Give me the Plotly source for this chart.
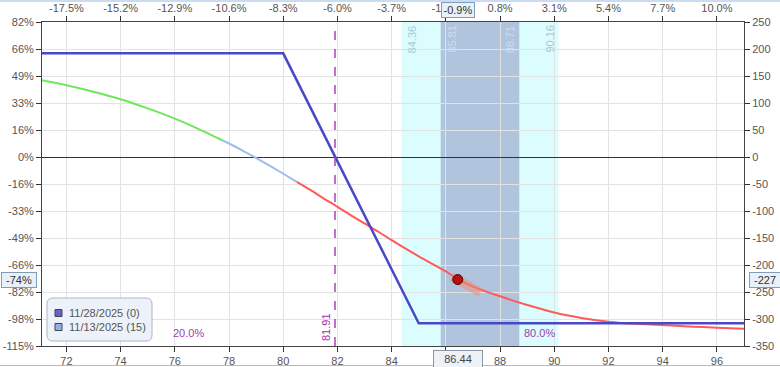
import plotly.graph_objects as go

# ---------------- data ----------------
x_ticks = [72, 74, 76, 78, 80, 82, 84, 86, 88, 90, 92, 94, 96]
top_tick_labels = ["-17.5%", "-15.2%", "-12.9%", "-10.6%", "-8.3%", "-6.0%", "-3.7%",
                   "-1.4%", "0.8%", "3.1%", "5.4%", "7.7%", "10.0%"]
y_ticks = [250, 200, 150, 100, 50, 0, -50, -100, -150, -200, -250, -300, -350]
left_tick_labels = ["82%", "66%", "49%", "33%", "16%", "0%", "-16%", "-33%", "-49%",
                    "-66%", "-82%", "-98%", "-115%"]
right_tick_labels = [str(v) for v in y_ticks]

# expiration P&L (11/28/2025)
expiry_price = [71.1, 80.0, 85.0, 97.0]
expiry_pnl = [192, 192, -308, -308]

# T+15 P&L (11/13/2025)
t15_price = [71.1, 72, 73, 74, 75, 76, 77, 77.75, 78, 78.5, 78.9, 79.5, 80, 80.5, 81, 81.5,
             81.9, 82.5, 83, 83.5, 84, 85, 86, 86.44, 87, 88, 89, 90, 91, 92, 93, 94, 95,
             96, 97]
t15_pnl = [142, 133, 121, 107, 90, 71, 49, 31, 25, 12, 1, -16, -31, -46, -61, -77,
           -89, -108, -123, -138, -154, -184, -212, -226, -240, -258, -274, -288, -298,
           -305, -309, -311, -314, -316, -318]
green_end = 7      # index where the green part ends
blue_end = 13      # index where the light blue part ends

current_price = 86.44
current_pnl = -227
current_pct = "-74%"
current_top_pct = "-0.9%"
tangent_price = [86.22, 87.28]
tangent_pnl = [-222, -251]

breakeven = 81.91
sd1 = [84.36, 90.16]
sd_half = [85.81, 88.71]
prob_labels = ["20.0%", "80.0%"]
prob_price = [76.5, 89.45]

legend_names = ["11/28/2025 (0)", "11/13/2025 (15)"]
legend_colors = ["#6a5fd0", "#8fb2ea"]

# ---------------- layout helpers ----------------
L, R, T, B = 42, 744, 22, 346
def px_x(p):
    return (p - L) / (R - L)
def px_y(p):
    return (B - p) / (B - T)

FONT = "Arial, Liberation Sans, sans-serif"
XR = [71.1, 97.0]
YR = [-350, 250]

fig = go.Figure()

# T+15 curve segments
fig.add_trace(go.Scatter(x=t15_price[:green_end + 1], y=t15_pnl[:green_end + 1], mode="lines",
                         line=dict(color="#6ee85a", width=2, shape="spline"), hoverinfo="skip"))
fig.add_trace(go.Scatter(x=t15_price[green_end:blue_end + 1], y=t15_pnl[green_end:blue_end + 1],
                         mode="lines", line=dict(color="#9dbdee", width=2, shape="spline"),
                         hoverinfo="skip"))
fig.add_trace(go.Scatter(x=t15_price[blue_end:], y=t15_pnl[blue_end:], mode="lines",
                         line=dict(color="#ff5a5a", width=2, shape="spline"), hoverinfo="skip"))

# expiration line
fig.add_trace(go.Scatter(x=expiry_price, y=expiry_pnl, mode="lines",
                         line=dict(color="#4848c8", width=2.5), hoverinfo="skip"))

# tangent highlight and current marker
fig.add_trace(go.Scatter(x=tangent_price, y=tangent_pnl, mode="lines",
                         line=dict(color="rgba(240,140,110,0.5)", width=9), hoverinfo="skip"))
fig.add_trace(go.Scatter(x=[current_price], y=[current_pnl], mode="markers",
                         marker=dict(color="#b80f0f", size=10, line=dict(color="#5a0000", width=1)),
                         hoverinfo="skip"))

# invisible trace for secondary axes
fig.add_trace(go.Scatter(x=[expiry_price[0]], y=[expiry_pnl[0]], xaxis="x2", yaxis="y2",
                         mode="markers", marker=dict(opacity=0), hoverinfo="skip"))

shapes = []
# shaded std-dev regions
shapes.append(dict(type="rect", xref="x", yref="paper", x0=sd1[0], x1=sd1[1], y0=0, y1=1,
                   fillcolor="#dcfdfd", line=dict(width=0), layer="below"))
shapes.append(dict(type="rect", xref="x", yref="paper", x0=sd_half[0], x1=sd_half[1], y0=0, y1=1,
                   fillcolor="#b0c4de", line=dict(width=0), layer="below"))
# breakeven
shapes.append(dict(type="line", xref="x", yref="paper", x0=breakeven, x1=breakeven, y0=0, y1=1,
                   line=dict(color="#b040b8", width=1.5, dash="dash")))
# top strip and bottom line
shapes.append(dict(type="rect", xref="paper", yref="paper", x0=px_x(0), x1=px_x(780),
                   y0=px_y(2), y1=px_y(0), fillcolor="#c9dcf2", line=dict(width=0)))
shapes.append(dict(type="line", xref="paper", yref="paper", x0=px_x(0), x1=px_x(780),
                   y0=px_y(365.5), y1=px_y(365.5), line=dict(color="#b4bcc6", width=1)))

# legend box (rounded)
lx0, lx1, ly0, ly1, r = 47, 152, 298, 341, 6
def P(x, y):
    return f"{px_x(x)},{px_y(y)}"
path = (f"M {P(lx0 + r, ly0)} L {P(lx1 - r, ly0)} Q {P(lx1, ly0)} {P(lx1, ly0 + r)} "
        f"L {P(lx1, ly1 - r)} Q {P(lx1, ly1)} {P(lx1 - r, ly1)} L {P(lx0 + r, ly1)} "
        f"Q {P(lx0, ly1)} {P(lx0, ly1 - r)} L {P(lx0, ly0 + r)} Q {P(lx0, ly0)} {P(lx0 + r, ly0)} Z")
shapes.append(dict(type="path", xref="paper", yref="paper", path=path,
                   fillcolor="#edf2fa", line=dict(color="#a9b6c6", width=1)))
annotations = []
for i, (name, col) in enumerate(zip(legend_names, legend_colors)):
    cy = 313 + i * 14
    shapes.append(dict(type="rect", xref="paper", yref="paper", x0=px_x(55), x1=px_x(62),
                       y0=px_y(cy + 3.5), y1=px_y(cy - 3.5), fillcolor=col,
                       line=dict(color="#444", width=1)))
    annotations.append(dict(xref="paper", yref="paper", x=px_x(67), y=px_y(cy), text=name,
                            showarrow=False, xanchor="left", yanchor="middle",
                            font=dict(family=FONT, size=11, color="#555")))

# std-dev labels
for val, anc, col, sh in [(sd1[0], "left", "#a9c9da", 3), (sd_half[0], "left", "#cfdcee", 3),
                          (sd_half[1], "right", "#cfdcee", -1), (sd1[1], "right", "#a9c9da", -1)]:
    annotations.append(dict(xref="x", yref="paper", x=val, y=px_y(23), text=f"{val:.2f}",
                            textangle=-90, showarrow=False, xanchor=anc, yanchor="top",
                            xshift=sh, font=dict(family=FONT, size=11, color=col)))
# breakeven label
annotations.append(dict(xref="x", yref="paper", x=breakeven, y=px_y(343), text=f"{breakeven:.2f}",
                        textangle=-90, showarrow=False, xanchor="right", yanchor="bottom",
                        xshift=-1, font=dict(family=FONT, size=11, color="#a030a8")))
# probability labels
for t, p in zip(prob_labels, prob_price):
    annotations.append(dict(xref="x", yref="paper", x=p, y=px_y(333), text=t, showarrow=False,
                            xanchor="center", yanchor="middle",
                            font=dict(family=FONT, size=11, color="#a040b0")))
# current value boxes
box = dict(showarrow=False, bgcolor="#e8f0f9", bordercolor="#7f9db9", borderwidth=1,
           borderpad=1, font=dict(family=FONT, size=11, color="#333"))
annotations.append(dict(xref="paper", yref="y", x=px_x(1), y=current_pnl, text=current_pct,
                        xanchor="left", yanchor="middle", width=32, **box))
annotations.append(dict(xref="paper", yref="y", x=px_x(749), y=current_pnl, text=str(current_pnl),
                        xanchor="left", yanchor="middle", width=28, **box))
annotations.append(dict(xref="x", yref="paper", x=current_price, y=px_y(10), text=current_top_pct,
                        xanchor="center", yanchor="middle", width=30, **box))
annotations.append(dict(xref="x", yref="paper", x=current_price, y=px_y(359),
                        text=f"{current_price:.2f}", xanchor="center", yanchor="middle", width=44,
                        showarrow=False, bgcolor="#eef2f6", bordercolor="#8797a8", borderwidth=1,
                        borderpad=2, font=dict(family=FONT, size=11, color="#444")))

axis_common = dict(ticks="outside", ticklen=5, tickcolor="#333", showline=True,
                   linecolor="#444", linewidth=1, zeroline=False,
                   tickfont=dict(family=FONT, size=11, color="#555"))

fig.update_layout(
    width=780, height=367,
    margin=dict(l=L, r=780 - R, t=T, b=367 - B, autoexpand=False),
    plot_bgcolor="white", paper_bgcolor="white", showlegend=False,
    xaxis=dict(range=XR, tickvals=x_ticks, showgrid=True, gridcolor="#e2e2e2", **axis_common),
    xaxis2=dict(range=XR, tickvals=x_ticks, ticktext=top_tick_labels, overlaying="x",
                side="top", showgrid=False, **axis_common),
    yaxis=dict(range=YR, tickvals=y_ticks, ticktext=left_tick_labels, showgrid=True,
               gridcolor="#e2e2e2", **{k: v for k, v in axis_common.items() if k != "zeroline"},
               zeroline=True, zerolinecolor="#333", zerolinewidth=1),
    yaxis2=dict(range=YR, tickvals=y_ticks, ticktext=right_tick_labels, overlaying="y",
                side="right", showgrid=False, **axis_common),
    shapes=shapes, annotations=annotations,
)

fig.write_html("out.html", config={"displayModeBar": False},
               post_script="document.body.style.margin='0px';document.body.style.overflow='hidden';")
